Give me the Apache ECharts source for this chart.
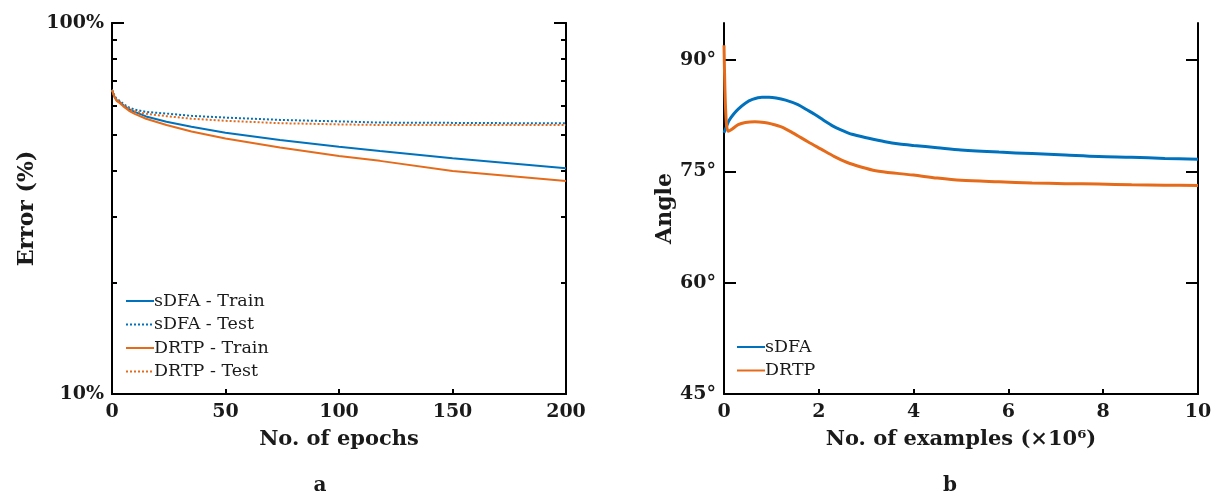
<!DOCTYPE html>
<html>
<head>
<meta charset="utf-8">
<script src="https://cdn.jsdelivr.net/npm/echarts@6/dist/echarts.min.js"></script>
<style>
  html, body { margin: 0; padding: 0; background: #fff; }
  #chart { width: 1216px; height: 494px; }
</style>
</head>
<body>
<div id="chart"></div>
<script>
// panel a: error vs epochs (log scale)
const epochs = [0, 1, 2, 3.5, 5, 7.5, 10, 15, 24, 35, 50, 74, 100, 118, 150, 175, 200];
const sdfaTrain = [66.0, 63.5, 62.0, 61.2, 60.0, 58.6, 57.6, 56.0, 54.2, 52.5, 50.6, 48.4, 46.4, 45.2, 43.2, 41.9, 40.6];
const sdfaTest  = [66.0, 63.8, 62.5, 61.6, 60.5, 59.2, 58.4, 57.6, 57.0, 56.2, 55.6, 54.8, 54.3, 53.9, 53.8, 53.7, 53.7];
const drtpTrain = [66.0, 63.3, 61.7, 60.8, 59.6, 58.0, 56.9, 55.2, 53.1, 51.0, 48.8, 46.2, 43.8, 42.5, 39.9, 38.7, 37.5];
const drtpTest  = [66.0, 63.6, 62.2, 61.2, 60.0, 58.7, 57.8, 56.9, 56.1, 55.2, 54.5, 53.7, 53.3, 53.1, 53.1, 53.1, 53.1];
const errMajorTicks = [10, 100];
const errMinorTicks = [20, 30, 40, 50, 60, 70, 80, 90];

// panel b: angle vs examples (x 1e6)
const sdfaX = [0, 0.05, 0.1, 0.2, 0.3, 0.45, 0.6, 0.8, 0.95, 1.1, 1.3, 1.56, 1.75, 1.91, 2.1, 2.3, 2.47, 2.7, 3.03, 3.4, 3.7, 4.0, 4.5, 5.0, 5.8, 6.5, 7.2, 7.9, 8.6, 9.3, 10];
const sdfaAngle = [80.2, 81.0, 81.8, 82.7, 83.4, 84.2, 84.7, 85.0, 85.0, 84.9, 84.6, 84.0, 83.3, 82.7, 81.9, 81.1, 80.6, 80.0, 79.5, 79.0, 78.7, 78.5, 78.2, 77.9, 77.6, 77.4, 77.2, 77.0, 76.9, 76.75, 76.65];
const drtpX = [0, 0.02, 0.05, 0.09, 0.15, 0.3, 0.45, 0.65, 0.85, 1.0, 1.21, 1.45, 1.77, 2.05, 2.33, 2.6, 2.89, 3.2, 3.7, 4.0, 4.5, 5.0, 5.8, 6.5, 7.2, 7.9, 8.6, 9.3, 10];
const drtpAngle = [92.0, 86.0, 81.5, 80.4, 80.6, 81.3, 81.6, 81.7, 81.6, 81.4, 81.0, 80.2, 79.0, 78.0, 77.0, 76.2, 75.6, 75.1, 74.7, 74.5, 74.1, 73.8, 73.6, 73.45, 73.35, 73.3, 73.2, 73.15, 73.1];
const angleTicks = [45, 60, 75, 90];

const BLUE = '#0072BD';
const ORANGE = '#E56B1A';
const INK = '#1a1a1a';
const SERIF = '"DejaVu Serif", serif';

const zip = (xs, ys) => xs.map((x, i) => [x, ys[i]]);

const tickLabel = { color: INK, fontFamily: SERIF, fontWeight: 'bold', fontSize: 19 };
const xNameStyle = { color: INK, fontFamily: SERIF, fontWeight: 'bold', fontSize: 21 };
const yNameStyle = { color: INK, fontFamily: SERIF, fontWeight: 'bold', fontSize: 22 };
const line = { show: true, lineStyle: { color: '#000', width: 2 } };
const legendText = { color: INK, fontFamily: SERIF, fontSize: 17.5, lineHeight: 17, padding: [0, 0, 0, -5] };

function errAxis(pos, ticks, len, withLabels) {
  return {
    type: 'log', logBase: 10, gridIndex: 0, position: pos, min: 10, max: 100,
    axisLine: line,
    axisTick: { show: true, inside: true, length: len, customValues: ticks, lineStyle: { color: '#000', width: 2 } },
    axisLabel: withLabels ? Object.assign({ customValues: ticks, margin: 8, formatter: v => v + '%' }, tickLabel) : { show: false },
    splitLine: { show: false }
  };
}
function angleAxis(pos, withLabels) {
  return {
    type: 'value', gridIndex: 1, position: pos, min: 45, max: 95,
    axisLine: line,
    axisTick: { show: true, inside: true, length: 12, customValues: angleTicks, lineStyle: { color: '#000', width: 2 } },
    axisLabel: withLabels ? Object.assign({ customValues: angleTicks, margin: 8, formatter: v => v + '°' }, tickLabel) : { show: false },
    splitLine: { show: false }
  };
}

const chart = echarts.init(document.getElementById('chart'));
chart.setOption({
  animation: false,
  grid: [
    { left: 112, top: 23, width: 454, height: 371 },
    { left: 724, top: 23, width: 474, height: 371 }
  ],
  xAxis: [
    {
      type: 'value', gridIndex: 0, min: 0, max: 200, interval: 50,
      name: 'No. of epochs', nameLocation: 'middle', nameGap: 35, nameTextStyle: xNameStyle,
      axisLine: line,
      axisTick: { inside: true, length: 5, lineStyle: { color: '#000', width: 2 } },
      axisLabel: Object.assign({ margin: 9 }, tickLabel),
      splitLine: { show: false }
    },
    {
      type: 'value', gridIndex: 1, min: 0, max: 10, interval: 2,
      name: 'No. of examples (×10⁶)', nameLocation: 'middle', nameGap: 35, nameTextStyle: xNameStyle,
      axisLine: line,
      axisTick: { inside: true, length: 5, lineStyle: { color: '#000', width: 2 } },
      axisLabel: Object.assign({ margin: 9 }, tickLabel),
      splitLine: { show: false }
    }
  ],
  yAxis: [
    Object.assign(errAxis('left', errMajorTicks, 12, true), {
      name: 'Error (%)', nameLocation: 'middle', nameGap: 74, nameTextStyle: yNameStyle
    }),
    errAxis('left', errMinorTicks, 5, false),
    errAxis('right', errMajorTicks, 12, false),
    errAxis('right', errMinorTicks, 5, false),
    Object.assign(angleAxis('left', true), {
      name: 'Angle', nameLocation: 'middle', nameGap: 48, nameTextStyle: yNameStyle
    }),
    angleAxis('right', false)
  ],
  legend: [
    {
      orient: 'vertical', left: 125, top: 292, padding: 0, itemWidth: 28, itemHeight: 12, itemGap: 5.5,
      itemStyle: { opacity: 0, borderWidth: 0 },
      textStyle: legendText,
      data: ['sDFA - Train', 'sDFA - Test', 'DRTP - Train', 'DRTP - Test']
    },
    {
      orient: 'vertical', left: 736, top: 338, padding: 0, itemWidth: 28, itemHeight: 12, itemGap: 5.5,
      itemStyle: { opacity: 0, borderWidth: 0 },
      textStyle: legendText,
      data: ['sDFA', 'DRTP']
    }
  ],
  graphic: [
    { type: 'text', x: 320, y: 486, style: { text: 'a', font: 'bold 20px "DejaVu Serif"', fill: INK, align: 'center', verticalAlign: 'middle' } },
    { type: 'text', x: 950, y: 486, style: { text: 'b', font: 'bold 20px "DejaVu Serif"', fill: INK, align: 'center', verticalAlign: 'middle' } }
  ],
  series: [
    { name: 'sDFA - Train', type: 'line', xAxisIndex: 0, yAxisIndex: 0, symbol: 'none', data: zip(epochs, sdfaTrain), lineStyle: { color: BLUE, width: 2 }, itemStyle: { color: BLUE } },
    { name: 'sDFA - Test', type: 'line', xAxisIndex: 0, yAxisIndex: 0, symbol: 'none', data: zip(epochs, sdfaTest), lineStyle: { color: BLUE, width: 2, type: [2, 2] }, itemStyle: { color: BLUE } },
    { name: 'DRTP - Train', type: 'line', xAxisIndex: 0, yAxisIndex: 0, symbol: 'none', data: zip(epochs, drtpTrain), lineStyle: { color: ORANGE, width: 2 }, itemStyle: { color: ORANGE } },
    { name: 'DRTP - Test', type: 'line', xAxisIndex: 0, yAxisIndex: 0, symbol: 'none', data: zip(epochs, drtpTest), lineStyle: { color: ORANGE, width: 2, type: [2, 2] }, itemStyle: { color: ORANGE } },
    { name: 'sDFA', type: 'line', xAxisIndex: 1, yAxisIndex: 4, symbol: 'none', smooth: 0.3, data: zip(sdfaX, sdfaAngle), lineStyle: { color: BLUE, width: 3 }, itemStyle: { color: BLUE } },
    { name: 'DRTP', type: 'line', xAxisIndex: 1, yAxisIndex: 4, symbol: 'none', smooth: 0.3, data: zip(drtpX, drtpAngle), lineStyle: { color: ORANGE, width: 3 }, itemStyle: { color: ORANGE } }
  ]
});
</script>
</body>
</html>
